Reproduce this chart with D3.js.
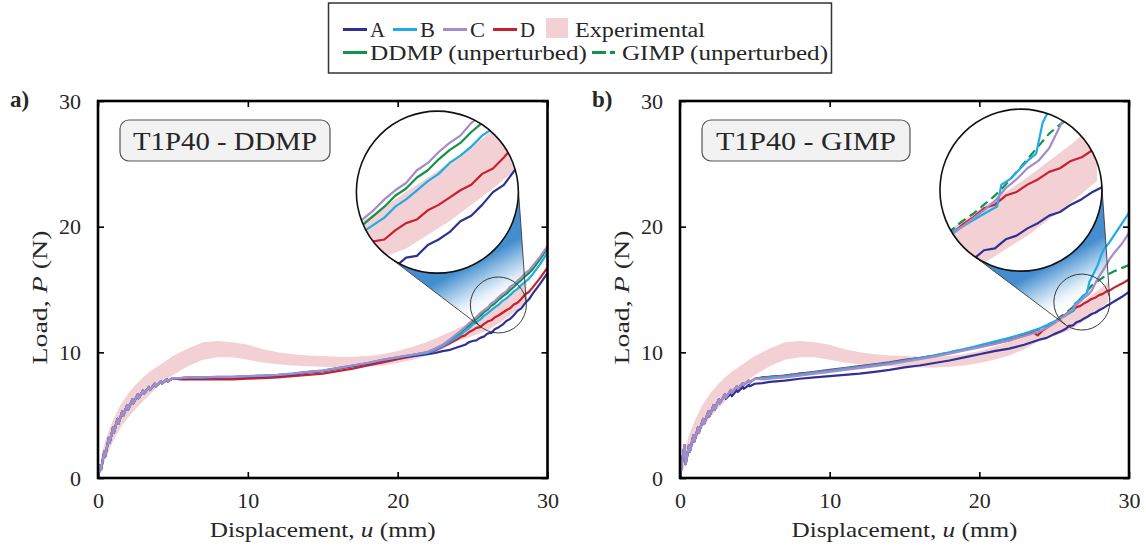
<!DOCTYPE html>
<html>
<head>
<meta charset="utf-8">
<script src="https://cdn.jsdelivr.net/npm/d3@7"></script>
<style>
  html, body { margin: 0; padding: 0; background: #fff; }
  svg { display: block; }
</style>
</head>
<body>
<svg id="chart" width="1146" height="547"></svg>
<script>
// ---------------- data ----------------
const xTicks = [0, 10, 20, 30];
const yTicks = [0, 10, 20, 30];

// experimental envelope: [u (mm), lower P (N), upper P (N)]
const expBand = [
  [0, 0, 0], [0.3, 0.9, 2.2], [0.6, 1.8, 3.4], [1, 2.9, 4.6], [1.5, 4.0, 5.8],
  [2, 4.8, 6.7], [2.5, 5.5, 7.4], [3, 6.1, 8.0], [3.5, 6.7, 8.5], [4, 7.3, 8.9],
  [5, 8.2, 9.7], [6, 8.9, 10.3], [7, 9.4, 10.8], [8, 9.6, 10.9], [9, 9.6, 10.8],
  [10, 9.4, 10.6], [11, 9.2, 10.25], [12, 9.05, 10.0], [13, 8.95, 9.85], [14, 8.9, 9.75],
  [15, 8.85, 9.7], [16, 8.8, 9.65], [17, 8.8, 9.65], [18, 8.85, 9.7], [19, 8.95, 9.85],
  [20, 9.15, 10.1], [21, 9.4, 10.45], [22, 9.75, 10.85], [23, 10.25, 11.35], [24, 10.9, 11.9],
  [25, 11.3, 12.5], [26, 11.75, 13.3], [27, 12.5, 14.1], [28, 13.4, 15.0], [28.6, 14.0, 15.6]
];

// initial loading (stick-slip teeth), DDMP runs
const riseDDMP = [
  [0, 0], [0.15, 1.0], [0.21, 0.7], [0.42, 2.1], [0.48, 1.7], [0.72, 3.2], [0.78, 2.8],
  [1.0, 4.0], [1.06, 3.6], [1.3, 4.7], [1.36, 4.3], [1.62, 5.3], [1.68, 4.95],
  [1.95, 5.8], [2.01, 5.45], [2.3, 6.25], [2.36, 5.95], [2.65, 6.65], [2.71, 6.35],
  [3.0, 6.95], [3.06, 6.7], [3.4, 7.25], [3.46, 7.0], [3.8, 7.5], [3.86, 7.3],
  [4.2, 7.7], [4.26, 7.5], [4.6, 7.85], [4.66, 7.7], [5.0, 7.95]
];

// DDMP (panel a)
const ddmpA = [
  [5.5, 7.9], [6, 7.95], [7, 7.95], [8, 8.0], [9, 8.0], [10, 8.05], [11, 8.1], [12, 8.15],
  [13, 8.25], [14, 8.4], [15, 8.5], [16, 8.7], [17, 8.9], [18, 9.1], [19, 9.35], [20, 9.55],
  [21, 9.7], [22, 9.85], [22.5, 9.95], [23, 10.1], [23.5, 10.2], [24, 10.4], [24.25, 10.5],
  [24.5, 10.6], [24.75, 10.8], [25, 10.9], [25.25, 10.95], [25.5, 11.15], [25.75, 11.25],
  [26, 11.5], [26.25, 11.55], [26.5, 11.85], [26.75, 12.0], [27, 12.2], [27.25, 12.5],
  [27.5, 12.65], [27.75, 12.95], [28, 13.3], [28.25, 13.5], [28.5, 13.9], [28.75, 14.2],
  [29, 14.65], [29.5, 15.45], [30, 16.3]
];
const ddmpB = [
  [5.5, 7.95], [6, 8.0], [7, 8.0], [8, 8.05], [9, 8.05], [10, 8.1], [11, 8.15], [12, 8.2],
  [13, 8.3], [14, 8.45], [15, 8.55], [16, 8.75], [17, 8.95], [18, 9.15], [19, 9.4], [20, 9.6],
  [21, 9.8], [22, 9.95], [22.5, 10.2], [23, 10.5], [23.5, 10.85], [24, 11.25], [24.25, 11.45],
  [24.5, 11.7], [24.75, 11.9], [25, 12.2], [25.25, 12.4], [25.5, 12.6], [25.75, 12.9],
  [26, 13.1], [26.25, 13.35], [26.5, 13.6], [26.75, 13.8], [27, 14.1], [27.25, 14.3],
  [27.5, 14.55], [27.75, 14.85], [28, 15.05], [28.25, 15.35], [28.5, 15.6], [28.75, 15.85],
  [29, 16.2], [29.5, 17.0], [30, 17.95]
];
const ddmpC = [
  [5.5, 7.95], [6, 8.0], [7, 8.0], [8, 8.05], [9, 8.05], [10, 8.1], [11, 8.15], [12, 8.2],
  [13, 8.3], [14, 8.45], [15, 8.55], [16, 8.75], [17, 8.95], [18, 9.15], [19, 9.4], [20, 9.6],
  [21, 9.8], [22, 10.05], [22.5, 10.3], [23, 10.6], [23.5, 11.05], [24, 11.5], [24.25, 11.75],
  [24.5, 12.0], [24.75, 12.3], [25, 12.55], [25.25, 12.8], [25.5, 13.1], [25.75, 13.35],
  [26, 13.55], [26.25, 13.9], [26.5, 14.1], [26.75, 14.4], [27, 14.65], [27.25, 14.85],
  [27.5, 15.2], [27.75, 15.4], [28, 15.7], [28.25, 15.95], [28.5, 16.3], [28.75, 16.5],
  [29, 16.85], [29.5, 17.6], [30, 18.45]
];
const ddmpD = [
  [5.5, 7.85], [6, 7.85], [7, 7.85], [8, 7.85], [9, 7.85], [10, 7.9], [11, 7.95], [12, 8.0],
  [13, 8.1], [14, 8.2], [15, 8.3], [16, 8.5], [17, 8.7], [18, 8.95], [19, 9.2], [20, 9.45],
  [21, 9.7], [22, 9.95], [22.5, 10.15], [23, 10.45], [23.5, 10.75], [24, 11.05], [24.25, 11.25],
  [24.5, 11.35], [24.75, 11.6], [25, 11.75], [25.25, 11.95], [25.5, 12.0], [25.75, 12.25],
  [26, 12.45], [26.25, 12.55], [26.5, 12.8], [26.75, 12.95], [27, 13.15], [27.25, 13.35],
  [27.5, 13.5], [27.75, 13.8], [28, 13.95], [28.25, 14.25], [28.5, 14.6], [28.75, 14.8],
  [29, 15.15], [29.5, 15.9], [30, 16.75]
];
const ddmpUnperturbed = [
  [5.5, 7.95], [6, 7.98], [7, 7.98], [8, 8.03], [9, 8.03], [10, 8.08], [11, 8.13], [12, 8.18],
  [13, 8.28], [14, 8.43], [15, 8.53], [16, 8.73], [17, 8.93], [18, 9.13], [19, 9.38], [20, 9.58],
  [21, 9.78], [22, 10.0], [22.5, 10.25], [23, 10.55], [23.5, 10.95], [24, 11.4], [24.25, 11.6],
  [24.5, 11.9], [24.75, 12.1], [25, 12.4], [25.25, 12.65], [25.5, 12.9], [25.75, 13.2],
  [26, 13.4], [26.25, 13.7], [26.5, 13.9], [26.75, 14.2], [27, 14.45], [27.25, 14.65],
  [27.5, 14.95], [27.75, 15.2], [28, 15.5], [28.25, 15.75], [28.5, 16.05], [28.75, 16.3],
  [29, 16.6], [29.5, 17.4], [30, 18.3]
];

// initial loading, GIMP runs
const riseGIMP = [
  [0, 0], [0.15, 1.4], [0.3, 2.6], [0.38, 1.1], [0.6, 2.6], [0.66, 2.1], [0.9, 3.4],
  [0.96, 2.9], [1.2, 4.0], [1.26, 3.6], [1.55, 4.7], [1.61, 4.3], [1.9, 5.3], [1.96, 4.9],
  [2.25, 5.8], [2.31, 5.45], [2.6, 6.25], [2.66, 5.95], [3.0, 6.65]
];
const riseGIMPUpper = [
  [3.06, 6.4], [3.4, 7.0], [3.46, 6.75], [3.8, 7.3], [3.86, 7.1], [4.2, 7.55], [4.26, 7.4],
  [4.6, 7.75], [4.66, 7.6], [5.0, 7.9]
];
const riseGIMPLower = [
  [3.06, 6.3], [3.4, 6.75], [3.46, 6.5], [3.8, 7.0], [3.86, 6.85], [4.2, 7.25], [4.26, 7.1],
  [4.6, 7.4], [4.66, 7.3], [5.0, 7.5]
];

// GIMP (panel b)
const gimpA = [
  [5.5, 7.55], [6, 7.65], [7, 7.75], [8, 7.9], [9, 8.0], [10, 8.1], [11, 8.2], [12, 8.3],
  [13, 8.45], [14, 8.6], [15, 8.8], [16, 8.95], [17, 9.15], [18, 9.35], [19, 9.6], [20, 9.85],
  [21, 10.1], [22, 10.3], [23, 10.6], [24, 11.0], [24.5, 11.15], [25, 11.45], [25.5, 11.7],
  [25.75, 11.85], [26, 12.1], [26.25, 12.15], [26.5, 12.4], [26.75, 12.5], [27, 12.7],
  [27.25, 12.85], [27.5, 13.05], [27.75, 13.15], [28, 13.35], [28.25, 13.5], [28.5, 13.7],
  [28.75, 13.85], [29, 14.05], [29.5, 14.4], [30, 14.8]
];
const gimpB = [
  [5.5, 7.95], [6, 8.0], [7, 8.1], [8, 8.25], [9, 8.4], [10, 8.55], [11, 8.7], [12, 8.85],
  [13, 9.0], [14, 9.15], [15, 9.35], [16, 9.55], [17, 9.75], [18, 10.0], [19, 10.25], [20, 10.55],
  [21, 10.85], [22, 11.15], [23, 11.5], [24, 11.9], [24.5, 12.15], [25, 12.45], [25.5, 12.75],
  [26, 13.1], [26.3, 13.3], [26.4, 13.9], [26.6, 14.05], [26.8, 14.3], [27.0, 14.55],
  [27.2, 14.75], [27.35, 15.6], [27.6, 16.2], [27.9, 16.9], [28.1, 17.6], [28.3, 18.2],
  [28.6, 18.6], [29, 19.3], [29.5, 20.2], [30, 21.1]
];
const gimpC = [
  [5.5, 7.85], [6, 7.9], [7, 8.0], [8, 8.15], [9, 8.3], [10, 8.45], [11, 8.6], [12, 8.75],
  [13, 8.9], [14, 9.05], [15, 9.25], [16, 9.45], [17, 9.65], [18, 9.9], [19, 10.15], [20, 10.4],
  [21, 10.65], [22, 10.95], [23, 11.3], [24, 11.65], [24.5, 11.95], [25, 12.3], [25.5, 12.75],
  [26, 13.2], [26.25, 13.45], [26.5, 13.8], [26.75, 14.05], [27, 14.35], [27.25, 14.55],
  [27.5, 14.9], [27.75, 15.5], [28, 16.05], [28.25, 16.5], [28.5, 17.0], [28.75, 17.5],
  [29, 17.9], [29.5, 18.6], [30, 19.5]
];
const gimpD = [
  [5.5, 8.0], [6, 8.05], [7, 8.15], [8, 8.3], [9, 8.45], [10, 8.6], [11, 8.75], [12, 8.9],
  [13, 9.05], [14, 9.2], [15, 9.4], [16, 9.55], [17, 9.75], [18, 9.95], [19, 10.2], [20, 10.45],
  [21, 10.7], [22, 10.95], [23, 11.35], [23.6, 11.6], [23.9, 11.35], [24.2, 11.7], [24.5, 11.95],
  [25, 12.35], [25.25, 12.55], [25.5, 12.8], [25.75, 13.0], [26, 13.25], [26.25, 13.35],
  [26.5, 13.6], [26.75, 13.7], [27, 13.9], [27.25, 14.05], [27.5, 14.25], [27.75, 14.35],
  [28, 14.55], [28.25, 14.65], [28.5, 14.85], [28.75, 14.95], [29, 15.15], [29.5, 15.45],
  [30, 15.8]
];
const gimpUnperturbed = [
  [5.5, 8.0], [6, 8.05], [7, 8.15], [8, 8.3], [9, 8.4], [10, 8.55], [11, 8.7], [12, 8.85],
  [13, 9.0], [14, 9.15], [15, 9.35], [16, 9.55], [17, 9.75], [18, 10.0], [19, 10.25], [20, 10.5],
  [21, 10.8], [22, 11.1], [23, 11.45], [24, 11.85], [24.5, 12.1], [25, 12.45], [25.25, 12.65],
  [25.5, 12.9], [25.75, 13.1], [26, 13.35], [26.25, 13.6], [26.5, 13.9], [26.75, 14.25],
  [27, 14.6], [27.25, 14.95], [27.5, 15.3], [27.75, 15.55], [28, 15.75], [28.25, 15.95],
  [28.5, 16.15], [28.75, 16.3], [29, 16.45], [29.5, 16.7], [30, 16.95]
];

// ---------------- fonts ----------------
// choose the first installed Times-like serif; fall back to DejaVu Serif
function pickFont(candidates) {
  const ctx = document.createElement('canvas').getContext('2d');
  const probe = 'Displacement 0123456789 Wg';
  ctx.font = '40px monospace';
  const base = ctx.measureText(probe).width;
  for (const f of candidates) {
    ctx.font = `40px "${f}", monospace`;
    if (Math.abs(ctx.measureText(probe).width - base) > 0.5) return f;
  }
  return 'serif';
}
const FONT_NAME = pickFont(['Liberation Serif', 'Tinos', 'Times New Roman', 'Nimbus Roman', 'FreeSerif', 'Noto Serif', 'DejaVu Serif']);
const FONT = `"${FONT_NAME}", serif`;
// digits of the typeset labels are half an em wide; scale sizes to keep that width
const SIZE_K = (() => {
  const ctx = document.createElement('canvas').getContext('2d');
  ctx.font = `100px ${FONT}`;
  return 500 / ctx.measureText('0123456789').width;
})();
const fs = s => (s * SIZE_K).toFixed(2);

// ---------------- styling ----------------
const COLORS = { A: '#2e3192', B: '#1fabe6', C: '#a58bc7', D: '#c8202e', U: '#12934a', EXP: '#f2d0d4' };
const LINE_W = 2.2;
const TEXT_FILL = '#262626';

const panels = [
  {
    id: 'a', tag: 'a)', title: 'T1P40 - DDMP', left: 98, right: 547.5,
    box: { x: 120, w: 210, textLen: 184 },
    mark: [26.72, 13.77], view: [26.72, 13.3], lens: [22.65, 22.75],
    series: [
      { key: 'U', data: riseDDMP.concat(ddmpUnperturbed), dash: null },
      { key: 'D', data: riseDDMP.concat(ddmpD), dash: null },
      { key: 'A', data: riseDDMP.concat(ddmpA), dash: null },
      { key: 'B', data: riseDDMP.concat(ddmpB), dash: null },
      { key: 'C', data: riseDDMP.concat(ddmpC), dash: null }
    ]
  },
  {
    id: 'b', tag: 'b)', title: 'T1P40 - GIMP', left: 680, right: 1129,
    box: { x: 702, w: 208, textLen: 180 },
    mark: [26.85, 14.0], view: [26.85, 13.75], lens: [22.78, 22.91],
    series: [
      { key: 'U', data: riseGIMP.concat(riseGIMPUpper, gimpUnperturbed), dash: '9,5' },
      { key: 'A', data: riseGIMP.concat(riseGIMPLower, gimpA), dash: null },
      { key: 'D', data: riseGIMP.concat(riseGIMPUpper, gimpD), dash: null },
      { key: 'B', data: riseGIMP.concat(riseGIMPUpper, gimpB), dash: null },
      { key: 'C', data: riseGIMP.concat(riseGIMPUpper, gimpC), dash: null }
    ]
  }
];

const TOP = 101, BOTTOM = 478;
const R_MARK = 28, R_LENS = 81, ZOOM = 2.9;

const svg = d3.select('#chart');
const defs = svg.append('defs');

function drawData(g, x, y, p) {
  const area = d3.area().x(d => x(d[0])).y0(d => y(d[1])).y1(d => y(d[2]));
  g.append('path').datum(expBand).attr('d', area).attr('fill', COLORS.EXP).attr('stroke', 'none');
  const line = d3.line().x(d => x(d[0])).y(d => y(d[1]));
  p.series.forEach(s => {
    g.append('path').datum(s.data).attr('d', line)
      .attr('fill', 'none').attr('stroke', COLORS[s.key]).attr('stroke-width', LINE_W)
      .attr('stroke-linejoin', 'round')
      .attr('stroke-dasharray', s.dash);
  });
}

panels.forEach(p => {
  const x = d3.scaleLinear().domain([0, 30]).range([p.left, p.right]);
  const y = d3.scaleLinear().domain([0, 30]).range([BOTTOM, TOP]);
  const g = svg.append('g');

  defs.append('clipPath').attr('id', 'plot-' + p.id)
    .append('rect').attr('x', p.left).attr('y', TOP).attr('width', p.right - p.left).attr('height', BOTTOM - TOP);

  // marker circle, magnified view centre and lens position
  const mx = x(p.mark[0]), my = y(p.mark[1]);
  const vx = x(p.view[0]), vy = y(p.view[1]);
  const lx = x(p.lens[0]), ly = y(p.lens[1]);

  // connector cone between the lens and the marker circle
  const dx = mx - lx, dy = my - ly, dist = Math.hypot(dx, dy);
  const ux = dx / dist, uy = dy / dist;
  const cosA = (R_LENS - R_MARK) / dist, sinA = Math.sqrt(1 - cosA * cosA);
  const normals = [
    [cosA * ux - sinA * uy, cosA * uy + sinA * ux],
    [cosA * ux + sinA * uy, cosA * uy - sinA * ux]
  ];
  const tan = normals.map(n => ({
    big: [lx + R_LENS * n[0], ly + R_LENS * n[1]],
    small: [mx + R_MARK * n[0], my + R_MARK * n[1]]
  }));
  const grad = defs.append('linearGradient').attr('id', 'cone-' + p.id)
    .attr('gradientUnits', 'userSpaceOnUse')
    .attr('x1', lx).attr('y1', ly).attr('x2', mx).attr('y2', my);
  grad.append('stop').attr('offset', R_LENS / dist * 0.98).attr('stop-color', '#3a88cc').attr('stop-opacity', 0.95);
  grad.append('stop').attr('offset', 0.84).attr('stop-color', '#c4def2').attr('stop-opacity', 0.85);
  grad.append('stop').attr('offset', 1).attr('stop-color', '#ffffff').attr('stop-opacity', 0);

  g.append('path')
    .attr('d', d3.line()([tan[0].big, tan[0].small, tan[1].small, tan[1].big]) + 'Z')
    .attr('fill', `url(#cone-${p.id})`);

  // experimental band and model curves
  const plot = g.append('g').attr('clip-path', `url(#plot-${p.id})`);
  drawData(plot, x, y, p);

  // cone edges and marker circle
  tan.forEach(t => {
    g.append('line').attr('x1', t.big[0]).attr('y1', t.big[1]).attr('x2', t.small[0]).attr('y2', t.small[1])
      .attr('stroke', '#3a3a3a').attr('stroke-width', 0.9);
  });
  g.append('circle').attr('cx', mx).attr('cy', my).attr('r', R_MARK)
    .attr('fill', 'none').attr('stroke', '#3a3a3a').attr('stroke-width', 1);

  // magnified lens view
  defs.append('clipPath').attr('id', 'lens-' + p.id)
    .append('circle').attr('cx', lx).attr('cy', ly).attr('r', R_LENS);
  const lens = g.append('g').attr('clip-path', `url(#lens-${p.id})`);
  lens.append('circle').attr('cx', lx).attr('cy', ly).attr('r', R_LENS).attr('fill', '#fff');
  const xi = d3.scaleLinear().domain([0, 30]).range([lx + ZOOM * (x(0) - vx), lx + ZOOM * (x(30) - vx)]);
  const yi = d3.scaleLinear().domain([0, 30]).range([ly + ZOOM * (y(0) - vy), ly + ZOOM * (y(30) - vy)]);
  drawData(lens, xi, yi, p);
  g.append('circle').attr('cx', lx).attr('cy', ly).attr('r', R_LENS)
    .attr('fill', 'none').attr('stroke', '#111').attr('stroke-width', 1.6);

  // axes with inward ticks on all four sides
  const styleAxis = sel => {
    sel.attr('font-family', FONT).attr('font-size', fs(22));
    sel.select('.domain').remove();
    sel.selectAll('.tick line').attr('stroke', '#000').attr('stroke-width', 1.6);
    sel.selectAll('.tick text').attr('fill', TEXT_FILL);
  };
  g.append('g').attr('transform', `translate(0,${BOTTOM})`)
    .call(d3.axisBottom(x).tickValues(xTicks).tickSize(-6).tickPadding(14).tickFormat(d3.format('d')))
    .call(styleAxis);
  g.append('g').attr('transform', `translate(0,${TOP})`)
    .call(d3.axisTop(x).tickValues(xTicks).tickSize(-6).tickFormat(''))
    .call(styleAxis);
  g.append('g').attr('transform', `translate(${p.left},0)`)
    .call(d3.axisLeft(y).tickValues(yTicks).tickSize(-6).tickPadding(17).tickFormat(d3.format('d')))
    .call(styleAxis);
  g.append('g').attr('transform', `translate(${p.right},0)`)
    .call(d3.axisRight(y).tickValues(yTicks).tickSize(-6).tickFormat(''))
    .call(styleAxis);

  g.append('rect').attr('x', p.left).attr('y', TOP).attr('width', p.right - p.left).attr('height', BOTTOM - TOP)
    .attr('fill', 'none').attr('stroke', '#000').attr('stroke-width', 2.6);

  // title box
  g.append('rect').attr('x', p.box.x).attr('y', 120).attr('width', p.box.w).attr('height', 41)
    .attr('rx', 9).attr('fill', '#f2f2f2').attr('stroke', '#555').attr('stroke-width', 1.2);
  g.append('text').attr('x', p.box.x + p.box.w / 2).attr('y', 150)
    .attr('text-anchor', 'middle').attr('font-family', FONT).attr('font-size', fs(25)).attr('fill', TEXT_FILL)
    .attr('textLength', p.box.textLen).attr('lengthAdjust', 'spacingAndGlyphs')
    .text(p.title);

  // panel tag
  g.append('text').attr('x', p.left - 88).attr('y', 107)
    .attr('font-family', FONT).attr('font-size', fs(23)).attr('font-weight', 'bold').attr('fill', TEXT_FILL)
    .text(p.tag);

  // axis titles
  const xt = g.append('text').attr('x', (p.left + p.right) / 2).attr('y', 537)
    .attr('text-anchor', 'middle').attr('font-family', FONT).attr('font-size', fs(22)).attr('fill', TEXT_FILL)
    .attr('textLength', 226).attr('lengthAdjust', 'spacingAndGlyphs');
  xt.append('tspan').text('Displacement, ');
  xt.append('tspan').attr('font-style', 'italic').text('u');
  xt.append('tspan').text(' (mm)');

  const yt = g.append('text')
    .attr('transform', `translate(${p.left - 51},${(TOP + BOTTOM) / 2 + 8}) rotate(-90)`)
    .attr('text-anchor', 'middle').attr('font-family', FONT).attr('font-size', fs(22)).attr('fill', TEXT_FILL)
    .attr('textLength', 134).attr('lengthAdjust', 'spacingAndGlyphs');
  yt.append('tspan').text('Load, ');
  yt.append('tspan').attr('font-style', 'italic').text('P');
  yt.append('tspan').text(' (N)');
});

// ---------------- legend ----------------
const legend = svg.append('g').attr('font-family', FONT).attr('font-size', fs(20)).attr('fill', TEXT_FILL);
legend.append('rect').attr('x', 328.5).attr('y', 3).attr('width', 503).attr('height', 70)
  .attr('fill', '#fff').attr('stroke', '#333').attr('stroke-width', 1.5);

const legendRow1 = [
  { key: 'A', label: 'A', x: 343 },
  { key: 'B', label: 'B', x: 393 },
  { key: 'C', label: 'C', x: 443 },
  { key: 'D', label: 'D', x: 493 }
];
legendRow1.forEach(d => {
  legend.append('line').attr('x1', d.x).attr('x2', d.x + 24).attr('y1', 29.5).attr('y2', 29.5)
    .attr('stroke', COLORS[d.key]).attr('stroke-width', 3);
  legend.append('text').attr('x', d.x + 27).attr('y', 36.5)
    .attr('textLength', 15).attr('lengthAdjust', 'spacingAndGlyphs').text(d.label);
});
legend.append('rect').attr('x', 546).attr('y', 18).attr('width', 22).attr('height', 20).attr('fill', COLORS.EXP);
legend.append('text').attr('x', 575).attr('y', 36.5)
  .attr('textLength', 130).attr('lengthAdjust', 'spacingAndGlyphs').text('Experimental');

legend.append('line').attr('x1', 343).attr('x2', 367).attr('y1', 52.5).attr('y2', 52.5)
  .attr('stroke', COLORS.U).attr('stroke-width', 3);
legend.append('text').attr('x', 370).attr('y', 59.5)
  .attr('textLength', 217).attr('lengthAdjust', 'spacingAndGlyphs').text('DDMP (unperturbed)');
legend.append('line').attr('x1', 592).attr('x2', 616).attr('y1', 52.5).attr('y2', 52.5)
  .attr('stroke', COLORS.U).attr('stroke-width', 3).attr('stroke-dasharray', '14,4,5');
legend.append('text').attr('x', 622).attr('y', 59.5)
  .attr('textLength', 206).attr('lengthAdjust', 'spacingAndGlyphs').text('GIMP (unperturbed)');
</script>
</body>
</html>
